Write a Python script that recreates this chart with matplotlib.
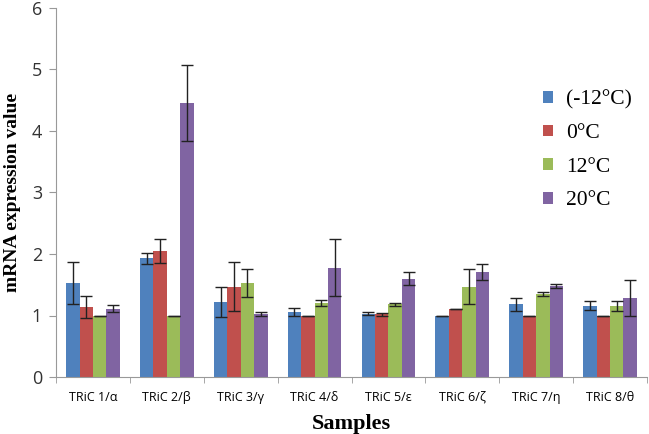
import matplotlib
matplotlib.use("Agg")
import matplotlib.pyplot as plt
import numpy as np
from matplotlib.patches import Patch

categories = ["TRiC 1/α", "TRiC 2/β", "TRiC 3/γ", "TRiC 4/δ",
              "TRiC 5/ε", "TRiC 6/ζ", "TRiC 7/η", "TRiC 8/θ"]
series_names = ["(-12°C)", "0°C", "12°C", "20°C"]
colors = ["#4F81BD", "#C0504D", "#9BBB59", "#8064A2"]

vals_m12 = [1.53, 1.93, 1.22, 1.06, 1.03, 1.00, 1.18, 1.16]
vals_0 = [1.14, 2.05, 1.47, 1.00, 1.02, 1.10, 1.00, 1.00]
vals_12 = [1.00, 1.00, 1.53, 1.20, 1.18, 1.47, 1.35, 1.16]
vals_20 = [1.11, 4.45, 1.03, 1.78, 1.60, 1.70, 1.48, 1.28]

err_m12 = [0.34, 0.09, 0.24, 0.07, 0.02, 0.00, 0.11, 0.07]
err_0 = [0.18, 0.20, 0.40, 0.00, 0.02, 0.00, 0.00, 0.00]
err_12 = [0.00, 0.00, 0.23, 0.05, 0.02, 0.28, 0.04, 0.08]
err_20 = [0.06, 0.62, 0.03, 0.47, 0.10, 0.13, 0.04, 0.29]

values = [vals_m12, vals_0, vals_12, vals_20]
errors = [err_m12, err_0, err_12, err_20]

fig = plt.figure(figsize=(6.49, 4.34), dpi=100)
ax = fig.add_axes([56/649, 1 - 377/434, 591/649, 369/434])

x = np.arange(len(categories))
w = 1 / 5.5
for i, (v, e, c, n) in enumerate(zip(values, errors, colors, series_names)):
    ax.bar(x + (i - 1.5) * w, v, w, color=c, label=n, zorder=2,
           yerr=e, capsize=4.5, error_kw=dict(ecolor="#222222", elinewidth=1, capthick=1))

ax.set_xlim(-0.5, len(categories) - 0.5)
ax.set_ylim(0, 6)
ax.set_yticks(range(0, 7))
ax.set_xticks(x)
ax.set_xticklabels(categories, fontsize=9, family="Open Sans")
ax.set_xticks(np.arange(-0.5, len(categories) + 0.5, 1), minor=True)
ax.tick_params(axis="x", which="major", length=0, pad=10)
ax.tick_params(axis="x", which="minor", length=4, color="#999999", direction="out")
ax.tick_params(axis="y", length=5, color="#999999", labelsize=13, pad=5)
for lab in ax.get_yticklabels():
    lab.set_family("Open Sans")
    lab.set_color("#333333")
for s in ["top", "right"]:
    ax.spines[s].set_visible(False)
for s in ["left", "bottom"]:
    ax.spines[s].set_color("#999999")

ax.set_ylabel("mRNA expression value", family="Liberation Serif", fontweight="bold", fontsize=14, labelpad=8)
ax.set_xlabel("Samples", family="Liberation Serif", fontweight="bold", fontsize=16, labelpad=7)

handles = [Patch(facecolor=c, edgecolor="none") for c in colors]
leg = ax.legend(handles, series_names, loc="upper left", bbox_to_anchor=(0.792, 0.83),
                frameon=False, prop={"family": "Liberation Serif", "size": 15.5},
                handlelength=0.45, handleheight=0.45, handletextpad=0.6, labelspacing=0.68)

fig.savefig("out.png", dpi=100)
